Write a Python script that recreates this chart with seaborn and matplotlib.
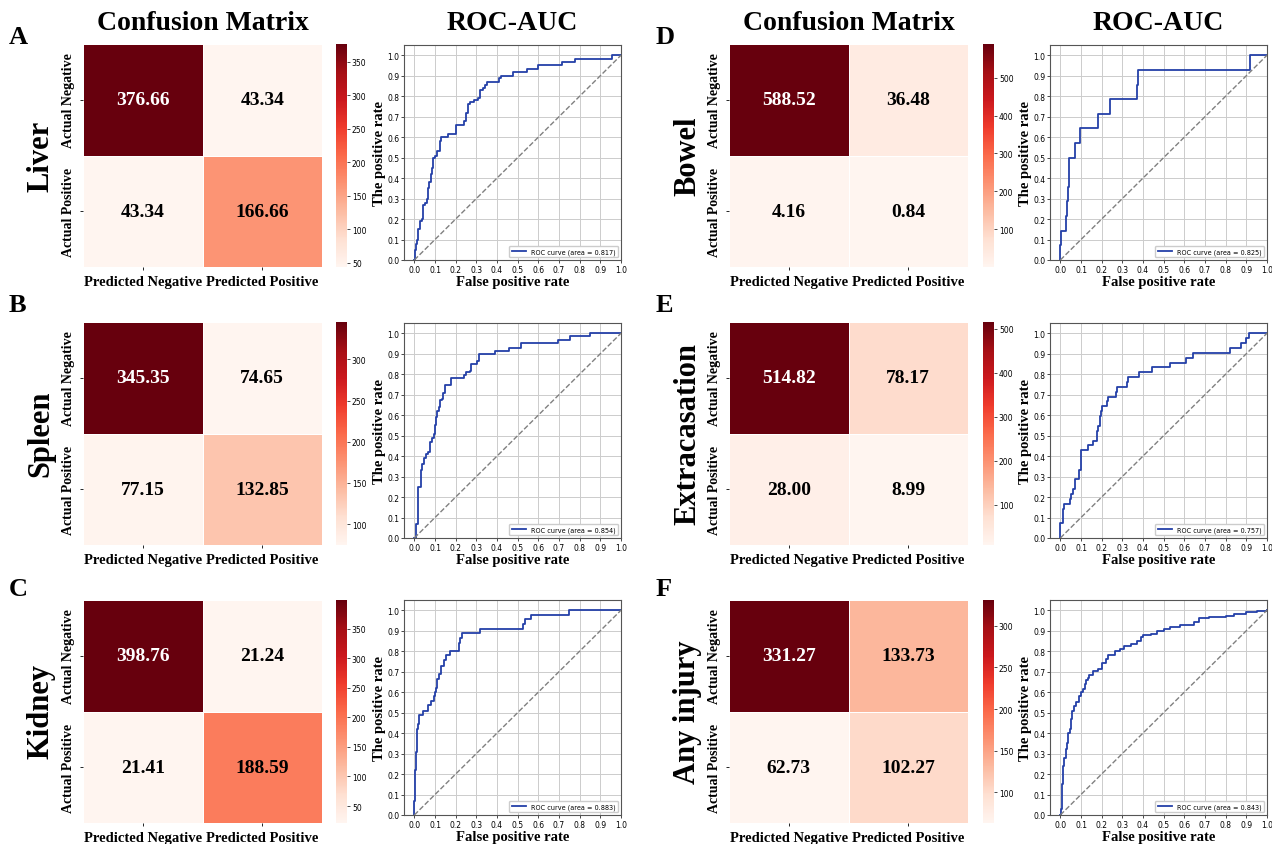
import numpy as np
import pandas as pd
import seaborn as sns
import matplotlib.pyplot as plt

# confusion matrix values (TN, FP, FN, TP) per organ
organs = ["Liver", "Spleen", "Kidney", "Bowel", "Extracasation", "Any injury"]
letters = ["A", "B", "C", "D", "E", "F"]
cm_values = [
    [[376.66, 43.34], [43.34, 166.66]],
    [[345.35, 74.65], [77.15, 132.85]],
    [[398.76, 21.24], [21.41, 188.59]],
    [[588.52, 36.48], [4.16, 0.84]],
    [[514.82, 78.17], [28.00, 8.99]],
    [[331.27, 133.73], [62.73, 102.27]],
]
auc_values = [0.817, 0.854, 0.883, 0.825, 0.757, 0.843]
x_labels = ["Predicted Negative", "Predicted Positive"]
y_labels = ["Actual Negative", "Actual Positive"]

# ROC step points (fpr where the step happens, tpr after it)
liver_fpr = [0, 0.005, 0.01, 0.015, 0.02, 0.025, 0.035, 0.04, 0.05, 0.06, 0.065, 0.07, 0.08, 0.085,
             0.09, 0.1, 0.11, 0.125, 0.13, 0.165, 0.2, 0.24, 0.25, 0.26, 0.27, 0.29, 0.31, 0.32, 0.33,
             0.34, 0.35, 0.41, 0.42, 0.475, 0.545, 0.6, 0.715, 0.775, 0.955, 1.0]
liver_tpr = [0, 0.05, 0.08, 0.1, 0.15, 0.19, 0.2, 0.27, 0.28, 0.3, 0.35, 0.38, 0.42, 0.45, 0.5, 0.51,
             0.53, 0.58, 0.6, 0.615, 0.66, 0.68, 0.72, 0.76, 0.77, 0.78, 0.79, 0.83, 0.84, 0.855, 0.87,
             0.89, 0.9, 0.92, 0.935, 0.95, 0.965, 0.98, 1.0, 1.0]
spleen_fpr = [0, 0.008, 0.016, 0.02, 0.03, 0.037, 0.045, 0.057, 0.065, 0.075, 0.086, 0.094, 0.1, 0.105,
              0.11, 0.118, 0.123, 0.135, 0.14, 0.146, 0.15, 0.175, 0.24, 0.248, 0.27, 0.273, 0.305,
              0.313, 0.39, 0.46, 0.516, 0.695, 0.755, 0.852, 1.0]
spleen_tpr = [0, 0.07, 0.14, 0.25, 0.33, 0.36, 0.39, 0.41, 0.42, 0.47, 0.49, 0.51, 0.55, 0.59, 0.62,
              0.64, 0.675, 0.68, 0.71, 0.73, 0.745, 0.78, 0.795, 0.81, 0.815, 0.85, 0.865, 0.9, 0.915,
              0.93, 0.95, 0.965, 0.985, 1.0, 1.0]
kidney_fpr = [0, 0, 0.005, 0.01, 0.013, 0.018, 0.024, 0.044, 0.068, 0.081, 0.093, 0.098, 0.106, 0.11,
              0.117, 0.13, 0.143, 0.154, 0.171, 0.215, 0.22, 0.233, 0.319, 0.524, 0.537, 0.564, 0.748, 1.0]
kidney_tpr = [0, 0.07, 0.22, 0.31, 0.42, 0.445, 0.49, 0.51, 0.535, 0.555, 0.58, 0.6, 0.62, 0.665, 0.69,
              0.73, 0.755, 0.78, 0.8, 0.84, 0.865, 0.89, 0.91, 0.935, 0.955, 0.978, 1.0, 1.0]
bowel_fpr = [0, 0, 0.005, 0.025, 0.03, 0.037, 0.042, 0.073, 0.093, 0.184, 0.241, 0.369, 0.377, 0.92, 1.0]
bowel_tpr = [0, 0.071, 0.143, 0.214, 0.286, 0.357, 0.5, 0.571, 0.643, 0.714, 0.786, 0.857, 0.929, 1.0, 1.0]
extra_fpr = [0, 0, 0.013, 0.018, 0.046, 0.054, 0.062, 0.07, 0.09, 0.1, 0.135, 0.16, 0.175, 0.184, 0.19,
             0.195, 0.2, 0.228, 0.232, 0.27, 0.276, 0.322, 0.325, 0.379, 0.444, 0.53, 0.606, 0.642,
             0.823, 0.875, 0.9, 0.915, 1.0]
extra_tpr = [0, 0.071, 0.143, 0.167, 0.19, 0.214, 0.238, 0.286, 0.333, 0.429, 0.452, 0.476, 0.524,
             0.548, 0.595, 0.619, 0.643, 0.667, 0.69, 0.714, 0.738, 0.762, 0.786, 0.81, 0.833, 0.857,
             0.881, 0.905, 0.929, 0.952, 0.976, 1.0, 1.0]
any_fpr = [0, 0.003, 0.008, 0.01, 0.012, 0.02, 0.025, 0.03, 0.035, 0.045, 0.05, 0.055, 0.065, 0.075,
           0.09, 0.1, 0.11, 0.12, 0.125, 0.135, 0.14, 0.16, 0.18, 0.2, 0.22, 0.23, 0.265, 0.29, 0.31,
           0.34, 0.37, 0.39, 0.4, 0.44, 0.47, 0.5, 0.53, 0.58, 0.645, 0.67, 0.72, 0.8, 0.84, 0.9, 0.95, 1.0]
any_tpr = [0, 0.03, 0.08, 0.15, 0.24, 0.28, 0.32, 0.35, 0.4, 0.42, 0.47, 0.51, 0.53, 0.55, 0.58, 0.6,
           0.615, 0.64, 0.66, 0.67, 0.685, 0.705, 0.715, 0.74, 0.76, 0.78, 0.8, 0.81, 0.825, 0.835,
           0.85, 0.87, 0.88, 0.885, 0.9, 0.91, 0.92, 0.93, 0.945, 0.96, 0.965, 0.97, 0.98, 0.99, 0.995, 1.0]

roc_fpr = [liver_fpr, spleen_fpr, kidney_fpr, bowel_fpr, extra_fpr, any_fpr]
roc_tpr = [liver_tpr, spleen_tpr, kidney_tpr, bowel_tpr, extra_tpr, any_tpr]

SERIF = "Liberation Serif"
W, H = 1272, 845

plt.rcParams["font.family"] = ["DejaVu Sans"]
fig = plt.figure(figsize=(W / 100, H / 100), dpi=100)


def box(x, top, w, h):
    # pixel box (top-left origin) -> figure fraction rect
    return [x / W, 1 - (top + h) / H, w / W, h / H]


hm_left = [83, 729]
cb_left = [336, 983]
roc_left = [404, 1050]
row_top = [45, 323, 601]
roc_top = [46, 324, 601]
letter_y = [37, 305, 590]

for i, organ in enumerate(organs):
    g, r = i // 3, i % 3
    ax_hm = fig.add_axes(box(hm_left[g], row_top[r], 239, 223))
    ax_cb = fig.add_axes(box(cb_left[g], row_top[r], 11, 223))
    ax_roc = fig.add_axes(box(roc_left[g], roc_top[r], 217, 215))

    cm = pd.DataFrame(cm_values[i], index=y_labels, columns=x_labels)
    sns.heatmap(cm, annot=True, fmt=".2f", cmap="Reds", ax=ax_hm, cbar_ax=ax_cb,
                linewidths=0.5, linecolor="white",
                annot_kws={"size": 14, "weight": "bold", "family": SERIF})
    vmax = np.max(cm_values[i])
    for t in ax_hm.texts:
        t.set_color("white" if float(t.get_text()) == vmax else "black")
    ax_hm.set_xticklabels(x_labels, fontsize=10.5, fontweight="bold", family=SERIF, rotation=0)
    ax_hm.set_yticklabels(y_labels, fontsize=10, fontweight="bold", family=SERIF,
                          rotation=90, va="center")
    ax_hm.tick_params(length=2.5, width=0.6)
    ax_cb.tick_params(labelsize=5.5, length=2, width=0.5, pad=1.5)

    sns.lineplot(x=roc_fpr[i], y=roc_tpr[i], ax=ax_roc, estimator=None, sort=False,
                 drawstyle="steps-post", color="#2440a8", lw=1.3,
                 label=f"ROC curve (area = {auc_values[i]:.3f})")
    sns.lineplot(x=[0, 1], y=[0, 1], ax=ax_roc, color="gray", linestyle="--", lw=1)
    ax_roc.set_xlim(-0.05, 1.0)
    ax_roc.set_ylim(0.0, 1.05)
    ax_roc.set_xticks(np.arange(0, 1.01, 0.1))
    ax_roc.set_yticks(np.arange(0, 1.01, 0.1))
    ax_roc.tick_params(labelsize=5.5, length=2.5, width=0.5, pad=1)
    ax_roc.grid(True, color="#cccccc", lw=0.7)
    for s in ax_roc.spines.values():
        s.set_color("#555555")
        s.set_linewidth(0.8)
    ax_roc.set_xlabel("False positive rate", fontsize=10.5, fontweight="bold", family=SERIF, labelpad=1)
    ax_roc.set_ylabel("The positive rate", fontsize=10.5, fontweight="bold", family=SERIF, labelpad=1)
    ax_roc.legend(loc="lower right", fontsize=4.7, handlelength=2.2, framealpha=1,
                  borderaxespad=0.4)

    # row label and panel letter
    fig.text((9 + g * 647) / W, 1 - letter_y[r] / H, letters[i], fontsize=19,
             fontweight="bold", family=SERIF, ha="left", va="center")
    fig.text((41 + g * 647) / W, 1 - (row_top[r] + 111) / H, organ, fontsize=22,
             fontweight="bold", family=SERIF, rotation=90, ha="center", va="center")

for g in range(2):
    fig.text((hm_left[g] + 120) / W, 1 - 23 / H, "Confusion Matrix", fontsize=20,
             fontweight="bold", family=SERIF, ha="center", va="center")
    fig.text((roc_left[g] + 108) / W, 1 - 23 / H, "ROC-AUC", fontsize=20,
             fontweight="bold", family=SERIF, ha="center", va="center")

fig.savefig("out.png", dpi=100)
